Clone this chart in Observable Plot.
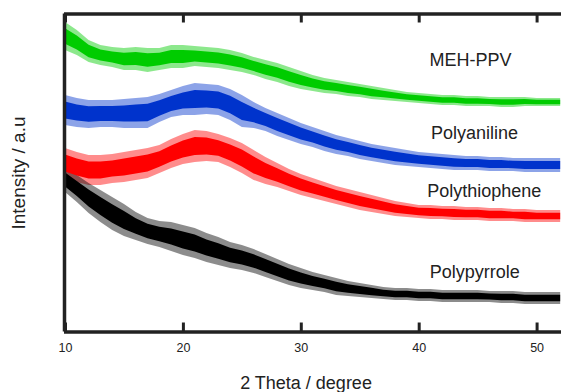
<!DOCTYPE html>
<html>
<head>
<meta charset="utf-8">
<script src="https://cdn.jsdelivr.net/npm/d3@7"></script>
<script src="https://cdn.jsdelivr.net/npm/@observablehq/plot@0.6"></script>
<style>
  html, body { margin: 0; padding: 0; background: #fff; }
</style>
</head>
<body>
<div id="chart"></div>
<script>
// 2θ positions (degree)
const theta = [10,11,12,13,14,15,16,17,18,19,20,21,22,23,24,25,26,27,28,29,30,31,32,33,34,35,36,37,38,39,40,41,42,43,44,45,46,47,48,49,50,51,52];

// Upper / lower edge of each noisy trace (intensity, a.u.)
const mehHi  = [308,300,290,285,283,282,283,282,282,285,285,284,283,282,280,277,273,270,267,263,259,255,252,250,248,246,244,242,240,238,237,236,235,235,234,234,233,233,233,233,232,232,232];
const mehLo  = [280,275,268,265,263,260,260,258,260,262,262,264,263,262,260,258,255,251,248,244,241,239,237,236,234,233,231,230,229,228,227,226,225,225,224,224,224,223,223,224,224,224,224];
const paniHi = [235,232,230,230,230,231,232,233,236,240,244,247,246,245,241,235,228,222,217,212,207,203,199,195,192,189,186,184,182,180,178,177,176,175,174,174,173,173,172,172,172,172,172];
const paniLo = [205,203,202,203,203,202,202,202,208,213,215,215,216,215,210,203,202,199,194,190,186,183,179,176,174,171,169,167,165,164,163,162,161,160,160,160,159,159,159,158,158,158,158];
const pthHi  = [182,178,175,175,176,178,180,182,185,191,196,200,199,196,192,187,180,173,167,161,156,152,148,144,141,138,135,132,129,127,125,125,124,124,123,123,122,122,121,121,120,120,120];
const pthLo  = [152,148,145,145,147,148,150,152,157,162,166,168,169,168,163,157,150,146,143,139,135,132,129,126,123,120,118,116,114,113,112,111,111,110,110,110,109,109,109,108,108,108,108];
const ppyHi  = [163,155,147,140,133,126,118,112,109,108,105,102,97,93,88,85,81,76,71,66,62,58,55,52,49,47,45,43,42,42,41,41,40,40,40,40,39,39,39,38,38,38,38];
const ppyLo  = [138,128,117,108,100,94,90,86,83,79,75,72,68,65,62,60,57,53,49,45,42,40,38,35,34,33,32,31,30,30,29,29,28,28,28,28,28,27,27,26,26,26,26];

const seriesNames = ["MEH-PPV", "Polyaniline", "Polythiophene", "Polypyrrole"];
const seriesColors = ["#00cc00", "#0033cc", "#ff0000", "#000000"];
const xTicks = [10, 20, 30, 40, 50];

const hiArrays = [mehHi, paniHi, pthHi, ppyHi];
const loArrays = [mehLo, paniLo, pthLo, ppyLo];
const rows = seriesNames.flatMap((s, k) =>
  theta.map((t, i) => ({series: s, theta: t, hi: hiArrays[k][i], lo: loArrays[k][i]}))
);

const xDomain = [9.915, 52.07];
const yDomain = [-1.5, 316.5];
const font = "'Liberation Sans', Arial, Helvetica, sans-serif";

const chart = Plot.plot({
  width: 561,
  height: 392,
  marginLeft: 64,
  marginRight: 0,
  marginTop: 13.5,
  marginBottom: 60.5,
  style: {fontFamily: font, fontSize: "12.5px", background: "#fff", color: "#222"},
  x: {domain: xDomain, ticks: xTicks, tickSize: 0, tickPadding: 11.5, tickFormat: d => String(d), label: null},
  y: {domain: yDomain, axis: null},
  color: {domain: seriesNames, range: seriesColors},
  marks: [
    // faint fringe of the noise band
    Plot.areaY(rows, {x: "theta", y1: "lo", y2: "hi", fill: "series", z: "series", fillOpacity: 0.45}),
    // dense core of the noise band
    Plot.areaY(rows, {x: "theta", y1: d => d.lo + 0.22 * (d.hi - d.lo), y2: d => d.hi - 0.22 * (d.hi - d.lo), fill: "series", z: "series"}),
    Plot.ruleX(xTicks, {strokeWidth: 3, insetTop: 309}),
    Plot.ruleX(xTicks, {strokeWidth: 3, insetBottom: 309}),
    Plot.ruleY(yDomain, {strokeWidth: 3.5}),
    Plot.ruleX([xDomain[0]], {strokeWidth: 3.5}),
    Plot.text(seriesNames, {
      x: [40.87, 41.0, 40.68, 40.9],
      y: [270.4, 197.4, 139.4, 58.4],
      text: d => d,
      textAnchor: "start",
      lineAnchor: "middle",
      fontSize: 18,
      fill: "#222"
    }),
    Plot.text(["2 Theta / degree"], {frameAnchor: "bottom", textAnchor: "middle", dx: -7, dy: 51.5, lineAnchor: "middle", fontSize: 18, fill: "#222"}),
    Plot.text(["Intensity / a.u"], {frameAnchor: "left", textAnchor: "middle", dx: -46, rotate: -90, lineAnchor: "middle", fontSize: 19, fill: "#222"})
  ]
});
document.getElementById("chart").appendChild(chart);
</script>
</body>
</html>
